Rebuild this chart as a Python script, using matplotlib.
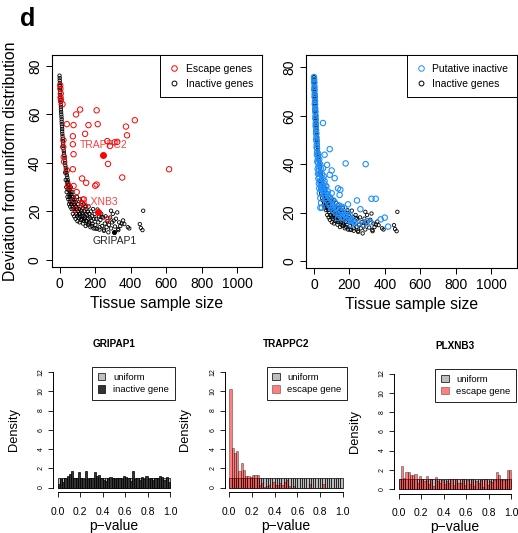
import matplotlib
matplotlib.use("Agg")
import matplotlib.pyplot as plt
from matplotlib.patches import Patch
from matplotlib.lines import Line2D
import numpy as np

plt.rcParams['font.family'] = ['Liberation Sans', 'DejaVu Sans']

# ---------------- data ----------------
inactive_x = [0, 1, 1, 2, 2, 3, 3, 4, 4, 5, 6, 6, 7, 8, 8, 9, 10, 11, 12, 12, 13, 14, 15, 15, 16, 17, 18, 19, 20,
              21, 22, 24, 25, 27, 28, 30, 31, 33, 35, 37, 39, 41, 44, 46, 49, 52, 55, 58, 62, 66, 70, 75, 80, 86,
              92, 99, 107, 116, 126, 137, 150, 165, 182, 202, 225, 250,
              32, 35, 38, 40, 42, 45, 46, 48, 50, 52, 54, 55, 57, 58, 60, 60,
              62, 64, 66, 68, 70, 72, 74, 75, 77, 79, 81, 83, 85, 87, 89, 90, 92, 94, 96, 98, 99,
              101, 103, 105, 107, 109, 111, 113, 115, 117, 119, 121, 123, 125, 127, 129, 131, 133, 135, 137, 139,
              141, 143, 145, 147, 149,
              152, 154, 156, 158, 160, 162, 164, 166, 168, 171, 174, 177, 180, 183, 186, 189, 192, 195, 198,
              202, 206, 210, 214, 218, 222, 226, 230, 235, 240, 245, 250, 255, 260, 265, 270, 278, 285, 290, 296,
              300, 305, 312, 318, 325, 330, 336, 342, 350, 358, 365,
              275, 290, 331, 393, 452, 458, 467, 471, 385, 237]
inactive_y = [76, 75, 74, 73, 72, 71, 70, 69, 68, 67, 66, 65, 64, 63, 62, 61, 60, 59, 58, 57, 56, 55, 54, 53, 52,
              51, 50, 49, 48, 47, 46, 45, 44, 43, 42, 41, 40, 39, 38, 37, 36, 35, 34, 33, 32, 31, 30, 29, 28, 27,
              26, 25, 24, 23, 22, 21, 20, 19, 18, 17, 16, 15, 14, 13, 12.5, 12,
              36, 33, 30, 28, 32, 26, 29, 31, 25, 27, 23, 29, 26, 24, 22, 27,
              25, 30, 23, 21, 24, 28, 22, 19, 26, 21, 23, 18, 25, 20, 22, 17, 24, 19, 21, 26, 18,
              16, 20, 23, 17.5, 21, 19, 15.5, 25, 18, 22, 16.5, 20, 24, 17, 19.5, 21.5, 15, 18, 23, 16,
              20, 17.5, 22, 14, 19,
              21, 16, 18.5, 20, 14.5, 17, 22, 15.5, 19, 17.5, 13.5, 20, 16, 18, 15, 21, 13, 17, 19,
              14.5, 17, 12.8, 20.8, 15.5, 18, 13.5, 16.5, 19, 14, 17.5, 12.5, 15, 18, 13.5, 16, 14.5, 17.5, 13, 15.5,
              19, 16.2, 13.8, 17, 19.6, 12.8, 15.5, 14, 15, 16.3, 14.8,
              11.4, 20.3, 12.3, 13, 14.8, 13.2, 12.3, 20.3, 13.5, 17.8]

escape_x = [116, 209, 93, 41, 79, 163, 215, 144, 75, 424, 374, 380, 269, 325, 284, 310, 75, 79, 273, 75, 617, 353,
            127, 150, 49, 201, 209, 79, 97, 56, 82, 135, 88, 271, 125, 144,
            4, 5, 7, 6, 8, 17, 22, 21, 24, 26, 41]
escape_y = [62, 61.7, 60, 56, 55.6, 55.6, 56, 52, 51, 57.6, 55, 51.4, 49, 48.7, 47, 48.5, 47.7, 43.6, 39.6, 37.4, 37.4, 34,
            33.6, 31.8, 30.7, 30.6, 31.1, 30.5, 28, 29.8, 24.7, 25, 20.8, 16.9, 23.3, 22.2,
            72, 70.6, 68.6, 67, 65.8, 64.2, 49.4, 46.6, 42.5, 40.5, 37]

putative_x = [0, 1, 2, 3, 3, 4, 5, 6, 6, 7, 8, 9, 10, 10, 11, 12, 13, 14, 15, 16, 17, 18, 20, 22, 24, 26, 28, 30,
              32, 35, 38, 42, 46, 50, 55, 60, 66, 72, 80, 88, 96, 105, 115, 125, 140, 155, 170, 190, 210,
              1, 2, 4, 5, 7, 8, 10, 12, 13, 15, 17, 19, 21, 23, 25, 28, 30, 33, 36, 40, 45,
              25, 30, 35, 40, 45, 50, 55, 60, 65, 40, 50, 60, 70, 80, 90, 100, 110, 120, 130, 140, 150, 160,
              170, 180, 190, 200, 220, 230, 250, 280, 300, 320,
              51, 89, 179, 292, 243, 325, 349, 262, 192, 400, 377, 419, 211, 136, 117, 100, 51, 36, 149, 145,
              85, 108, 155, 174, 202, 211, 136, 57, 70, 79, 89, 60, 74]
putative_y = [76, 75, 73.5, 72, 70.5, 69, 67.5, 66, 64.5, 63, 61.5, 60, 58.5, 57, 55.5, 54, 52.5, 51, 49.5, 48,
              46.5, 45, 43.5, 42, 40.5, 39, 37.5, 36, 34.5, 33, 32, 31, 30, 29, 28, 27, 26, 25, 24, 23, 22, 21,
              20.5, 20, 19, 18, 17.5, 17, 16.5,
              74, 71, 68, 65, 62, 59, 56, 53, 50, 47, 44, 41, 38, 36, 34, 32, 30, 28, 26, 24, 22,
              44, 42, 40, 38, 36, 34, 35, 33, 31, 30, 31, 29, 28, 27, 26, 28, 25, 24, 22, 23, 21, 20,
              22, 19, 20, 18, 17, 16, 15.5, 15, 16.5, 16,
              57, 46.2, 40.3, 40, 25, 25.7, 25.7, 21.4, 23.4, 17.9, 17.2, 14.2, 17, 30, 34.2, 37.4, 38.3, 22,
              29.4, 27.3, 26.6, 22.5, 22.5, 19, 19, 14.9, 17.7, 32, 30.8, 28.7, 35.6, 43.9, 39.7]

highlight_names = ["TRAPPC2", "PLXNB3", "GRIPAP1"]
highlight_x = [247, 219, 308]
highlight_y = [43.2, 19.8, 11.5]

bin_edges = [i / 50 for i in range(51)]
uniform_density = [1.0] * 50
gripap1_density = [0.4, 0.9, 0.6, 1.0, 1.2, 1.4, 1.7, 1.0, 1.0, 1.6, 1.0, 0.9, 1.7, 0.9, 1.0, 1.0, 1.6, 1.2,
                   1.3, 1.0, 0.8, 0.7, 1.0, 1.1, 1.0, 0.9, 1.0, 1.0, 0.9, 1.2, 1.1, 1.0, 0.7, 1.7, 0.9, 1.0,
                   0.8, 1.1, 0.9, 1.2, 0.9, 1.0, 0.8, 1.0, 1.0, 1.2, 1.1, 0.8, 1.1, 0.6]
trappc2_density = [10.2, 4.1, 3.6, 3.8, 1.7, 2.5, 1.8, 1.2, 1.2, 1.1, 1.3, 1.3, 1.3, 0.3, 0.5, 0.1, 0.2, 0.3,
                   0.0, 0.6, 0.3, 0.3, 0.5, 0.3, 0.6, 0.8, 0.2, 0.0, 0.2, 0.0, 0.0, 0.0, 0.0, 0.0, 0.0, 0.4,
                   0.0, 0.0, 0.0, 0.0, 0.0, 0.4, 0.0, 0.0, 0.0, 0.0, 0.0, 0.0, 0.0, 0.0]
plxnb3_density = [1.0, 2.4, 1.1, 1.8, 1.8, 1.5, 1.5, 1.6, 0.6, 1.4, 1.0, 0.8, 1.3, 0.5, 1.0, 0.3, 1.2, 0.8,
                  0.6, 0.9, 0.5, 0.8, 0.6, 1.0, 0.4, 1.0, 0.6, 0.6, 1.0, 0.4, 0.9, 0.5, 1.0, 0.3, 0.8, 0.6,
                  0.9, 0.2, 1.0, 0.4, 0.8, 0.7, 0.9, 1.8, 1.5, 0.9, 0.9, 0.9, 2.0, 2.0]

xticks_top = [0, 200, 400, 600, 800, 1000]
yticks_top = [0, 20, 40, 60, 80]
xticks_hist = [0.0, 0.2, 0.4, 0.6, 0.8, 1.0]
yticks_hist = [0, 2, 4, 6, 8, 10, 12]

# ---------------- figure ----------------
W, H = 518, 533
fig = plt.figure(figsize=(W / 100, H / 100), dpi=100)


def add_ax(l, r, t, b):
    return fig.add_axes([l / W, 1 - b / H, (r - l) / W, (b - t) / H])


def style_top(ax, xlim, ylim):
    ax.set_xlim(*xlim)
    ax.set_ylim(*ylim)
    ax.set_xticks(xticks_top)
    ax.set_yticks(yticks_top)
    ax.tick_params(axis='both', labelsize=10, length=4, width=0.7, pad=3)
    for lab in ax.get_yticklabels():
        lab.set_rotation(90)
        lab.set_va('center')
    for s in ax.spines.values():
        s.set_linewidth(0.8)
    ax.set_xlabel("Tissue sample size", fontsize=11.3, labelpad=4)


def top_legend(ax, handles, labels):
    lg = ax.legend(handles, labels, loc='upper right', bbox_to_anchor=(1, 1),
                   borderaxespad=0, fontsize=7.5, frameon=True, fancybox=False, edgecolor='black',
                   framealpha=1, handlelength=1.0, handletextpad=0.6, borderpad=0.85, labelspacing=0.45)
    lg.get_frame().set_linewidth(0.7)
    return lg


# top-left
ax1 = add_ax(51.7, 262, 55, 267)
ax1.scatter(inactive_x, inactive_y, s=6, facecolors='none', edgecolors='black', linewidths=0.6, zorder=2)
ax1.scatter(escape_x, escape_y, s=15, facecolors='none', edgecolors='red', linewidths=0.7, zorder=3)
ax1.scatter(highlight_x[:2], highlight_y[:2], s=16, color='red', zorder=4)
ax1.scatter(highlight_x[2:], highlight_y[2:], s=7, color='black', zorder=4)
ax1.text(highlight_x[0], highlight_y[0] + 4, highlight_names[0], color='red', alpha=0.75,
         fontsize=7.5, ha='center', va='center', zorder=5)
ax1.text(highlight_x[1], highlight_y[1] + 4, highlight_names[1], color='red', alpha=0.75,
         fontsize=7.5, ha='center', va='center', zorder=5)
ax1.text(highlight_x[2], highlight_y[2] - 3.6, highlight_names[2], color='#222222',
         fontsize=7.5, ha='center', va='center', zorder=5)
style_top(ax1, (-44, 1140), (-2.9, 84.5))
ax1.set_ylabel("Deviation from uniform distribution", fontsize=11.3, labelpad=7)
h1 = [Line2D([], [], ls='none', marker='o', mfc='none', mec='red', ms=4, mew=0.7),
      Line2D([], [], ls='none', marker='o', mfc='none', mec='black', ms=3.5, mew=0.7)]
top_legend(ax1, h1, ["Escape genes", "Inactive genes"])

# top-right
ax2 = add_ax(306, 517, 55, 268)
ax2.scatter(inactive_x, inactive_y, s=6, facecolors='none', edgecolors='black', linewidths=0.6, zorder=2)
ax2.scatter(putative_x, putative_y, s=15, facecolors='none', edgecolors='#1E90FF', linewidths=0.8, zorder=3)
style_top(ax2, (-45, 1147), (-2.9, 85.1))
h2 = [Line2D([], [], ls='none', marker='o', mfc='none', mec='#1E90FF', ms=4, mew=0.7),
      Line2D([], [], ls='none', marker='o', mfc='none', mec='black', ms=3.5, mew=0.7)]
top_legend(ax2, h2, ["Putative inactive", "Inactive genes"])

fig.text(20 / W, 1 - 19 / H, "d", fontsize=18, fontweight='bold', ha='left', va='center')


# histograms
def hist_panel(x0px, x1px, y0px, y12px, dens, color, alpha, title, label):
    sx = (x1px - x0px)
    sy = (y0px - y12px) / 12
    l = x0px - 0.04 * sx
    r = x1px + 0.04 * sx
    t = y12px - 0.48 * sy
    b = y0px + 0.48 * sy
    ax = add_ax(l, r, t, b)
    lefts = bin_edges[:-1]
    ax.bar(lefts, uniform_density, width=0.02, align='edge', color='#BEBEBE', edgecolor='black',
           linewidth=0.5, zorder=2)
    ax.bar(lefts, dens, width=0.02, align='edge', color=color, alpha=alpha, edgecolor='black',
           linewidth=0.5, zorder=3)
    ax.set_xlim(-0.04, 1.04)
    ax.set_ylim(-0.48, 12.48)
    ax.spines['top'].set_visible(False)
    ax.spines['right'].set_visible(False)
    ax.spines['left'].set_bounds(0, 12)
    ax.spines['bottom'].set_bounds(0, 1)
    for s in ('left', 'bottom'):
        ax.spines[s].set_linewidth(0.7)
    ax.set_xticks(xticks_hist)
    ax.set_xticklabels([f"{v:.1f}" for v in xticks_hist])
    ax.set_yticks(yticks_hist)
    ax.tick_params(axis='x', labelsize=7.5, length=3.5, width=0.6, pad=7)
    ax.tick_params(axis='y', labelsize=5, length=3.5, width=0.6, pad=2.5)
    for lab in ax.get_yticklabels():
        lab.set_rotation(90)
        lab.set_va('center')
    ax.set_xlabel("p\u2212value", fontsize=10, labelpad=1.5)
    ax.set_ylabel("Density", fontsize=9.3, labelpad=13)
    ax.set_title(title, fontsize=7.2, fontweight='bold', pad=14.5)
    handles = [Patch(facecolor='#BEBEBE', edgecolor='black', linewidth=0.5),
               Patch(facecolor=color, alpha=alpha, edgecolor='black', linewidth=0.5)]
    lg = ax.legend(handles, ["uniform", label], loc='upper right', bbox_to_anchor=(1, 1),
                   borderaxespad=0, fontsize=6.8, frameon=True, fancybox=False, edgecolor='black',
                   framealpha=1, handlelength=0.8, handleheight=0.8, handletextpad=0.8,
                   borderpad=0.6, labelspacing=0.35)
    lg.get_frame().set_linewidth(0.6)
    return ax


hist_panel(57.5, 170.0, 487.5, 372.0, gripap1_density, '#333333', 1.0, "GRIPAP1", "inactive gene")
hist_panel(229.3, 342.7, 487.5, 372.0, trappc2_density, '#FF0000', 0.5, "TRAPPC2", "escape gene")
hist_panel(398.5, 511.5, 489.0, 373.5, plxnb3_density, '#FF0000', 0.5, "PLXNB3", "escape gene")

fig.savefig("out.png", dpi=100)
